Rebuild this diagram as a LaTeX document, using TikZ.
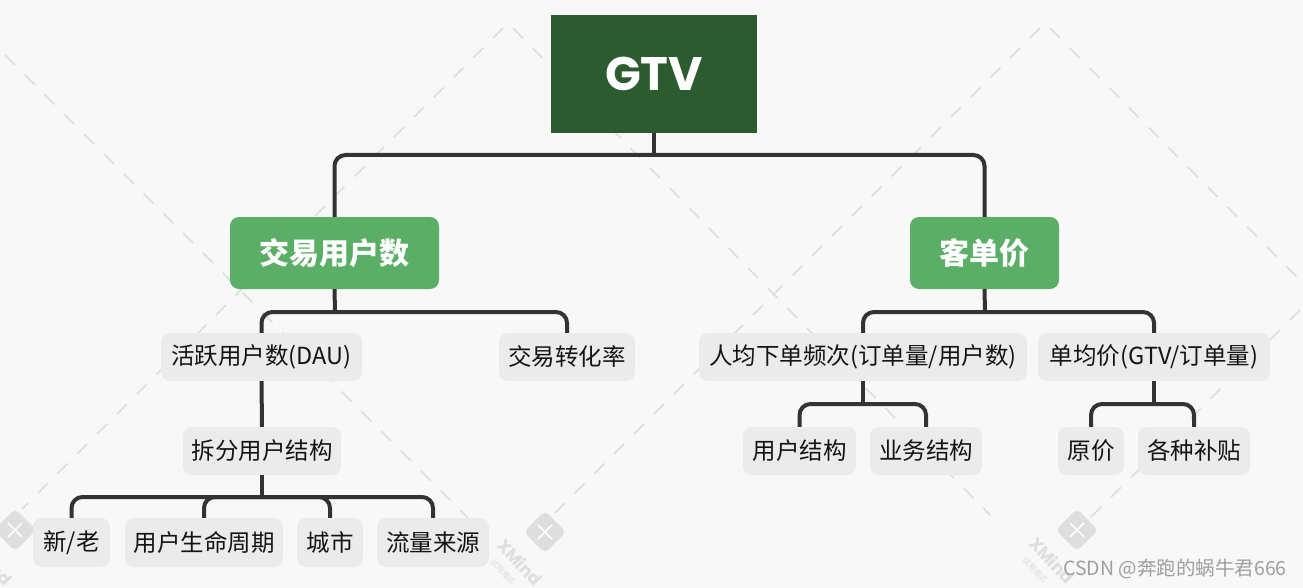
\documentclass[tikz,border=0pt]{standalone}
\usepackage{fontspec}
\usetikzlibrary{calc}
\setmainfont{Noto Sans CJK SC}
\newfontfamily\popfont{Poppins}
\definecolor{bgc}{HTML}{F8F8F8}
\definecolor{dkgreen}{HTML}{2B5B2F}
\definecolor{ltgreen}{HTML}{5BAE66}
\definecolor{leafc}{HTML}{EBEBEB}
\definecolor{linec}{HTML}{333333}
\definecolor{wmc}{HTML}{DEDEDE}
\definecolor{txtc}{HTML}{141414}
\tikzset{
  conn/.style={draw=linec, line width=4pt, rounded corners=11pt},
  rootbox/.style={fill=dkgreen, inner sep=0pt, text=white, font=\popfont\bfseries\fontsize{47}{50}\selectfont},
  mainbox/.style={fill=ltgreen, inner sep=0pt, rounded corners=9pt, minimum height=72pt, text=white, font=\bfseries\fontsize{30}{34}\selectfont},
  leafbox/.style={fill=leafc, inner sep=0pt, rounded corners=9pt, minimum height=48pt, text=txtc, font=\fontsize{23.5}{27}\selectfont},
  wmline/.style={draw=wmc, line width=1.6pt, dash pattern=on 14pt off 14pt},
  wmlogo/.style={fill=wmc, rounded corners=5pt, minimum width=30pt, minimum height=30pt, inner sep=0pt, rotate=45},
  wmtext/.style={text=wmc, inner sep=0pt, font=\popfont\bfseries\fontsize{17}{18}\selectfont, rotate=-47},
  wmsmall/.style={text=wmc, inner sep=0pt, font=\fontsize{8}{9}\selectfont, rotate=-47}
}
\begin{document}
\begin{tikzpicture}[x=1pt,y=-1pt]
\fill[bgc] (0,0) rectangle (1303,588);
\useasboundingbox (0,0) rectangle (1303,588);
% watermark lines
\draw[wmline] (5,55) -- (480,530);
\draw[wmline] (503,28) -- (22,509);
\draw[wmline] (513,28) -- (990,515);
\draw[wmline] (1040,28) -- (555,513);
\draw[wmline] (1050,28) -- (1303,283);
\draw[wmline] (1300,310) -- (1090,518);
% watermark logos
\foreach \lx/\ly/\nm in {15/530/wa, 545/532/wb, 1077/530/wc}{
  \node[wmlogo] (\nm) at (\lx,\ly) {};
  \draw[white, line width=1.6pt] ($(\nm.center)+(-7,-7)$) -- ($(\nm.center)+(7,7)$);
  \draw[white, line width=1.6pt] ($(\nm.center)+(-7,7)$) -- ($(\nm.center)+(7,-7)$);
}
\node[wmtext] (wt0) at (-10,562) {XMind};
\node[wmtext] (wt1) at (520,562) {XMind};
\node[wmtext] (wt3) at (1052,560) {XMind};
\node[wmsmall] (ws1) at (503,572) {试用模式};
\node[wmsmall] (ws3) at (1035,570) {试用模式};
% nodes
\node[rootbox, minimum width=206pt, minimum height=118pt] (gtv) at (654,74) {GTV};
\node[mainbox, minimum width=209pt] (jy) at (334.5,253) {交易用户数};
\node[mainbox, minimum width=149pt] (kd) at (984.5,253) {客单价};
\node[leafbox, minimum width=201pt] (dau) at (261.5,357) {活跃用户数(DAU)};
\node[leafbox, minimum width=136pt] (zh) at (567,357) {交易转化率};
\node[leafbox, minimum width=158pt] (cf) at (262,451) {拆分用户结构};
\node[leafbox, minimum width=77pt, minimum height=49pt] (xl) at (71.5,542.5) {新/老};
\node[leafbox, minimum width=158pt, minimum height=49pt] (smzq) at (204,542.5) {用户生命周期};
\node[leafbox, minimum width=66pt, minimum height=49pt] (cs) at (330,542.5) {城市};
\node[leafbox, minimum width=112pt, minimum height=49pt] (ly) at (433,542.5) {流量来源};
\node[leafbox, minimum width=328pt] (rj) at (863,357) {人均下单频次(订单量/用户数)};
\node[leafbox, minimum width=232pt] (dj) at (1154,357) {单均价(GTV/订单量)};
\node[leafbox, minimum width=113pt] (yhjg) at (799.5,451) {用户结构};
\node[leafbox, minimum width=112pt] (ywjg) at (926,451) {业务结构};
\node[leafbox, minimum width=66pt] (yj) at (1091,451) {原价};
\node[leafbox, minimum width=112pt] (bt) at (1194,451) {各种补贴};
% branch points
\coordinate (b1) at (654,155);
\coordinate (b2) at (335,312);
\coordinate (b3) at (262,497);
\coordinate (b4) at (985,312);
\coordinate (b5) at (863,404);
\coordinate (b6) at (1154,404);
% connectors
\draw[conn] (gtv.south) -- (b1);
\draw[conn] (jy.north) |- (b1) -| (kd.north);
\draw[conn] (jy.south) -- (b2);
\draw[conn] (dau.north) |- (b2) -| (zh.north);
\draw[conn] (dau.south) -- (cf.north);
\draw[conn] (cf.south) -- (b3);
\draw[conn] (xl.north) |- (b3) -| (ly.north);
\draw[conn] (smzq.north) |- (b3);
\draw[conn] (cs.north) |- (b3);
\draw[conn] (kd.south) -- (b4);
\draw[conn] (rj.north) |- (b4) -| (dj.north);
\draw[conn] (rj.south) -- (b5);
\draw[conn] (yhjg.north) |- (b5) -| (ywjg.north);
\draw[conn] (dj.south) -- (b6);
\draw[conn] (yj.north) |- (b6) -| (bt.north);
% credit
\node[text=gray!75, font=\fontsize{19.5}{21}\selectfont, inner sep=0pt] (credit) at (1175,569) {CSDN @奔跑的蜗牛君666};
\end{tikzpicture}
\end{document}
